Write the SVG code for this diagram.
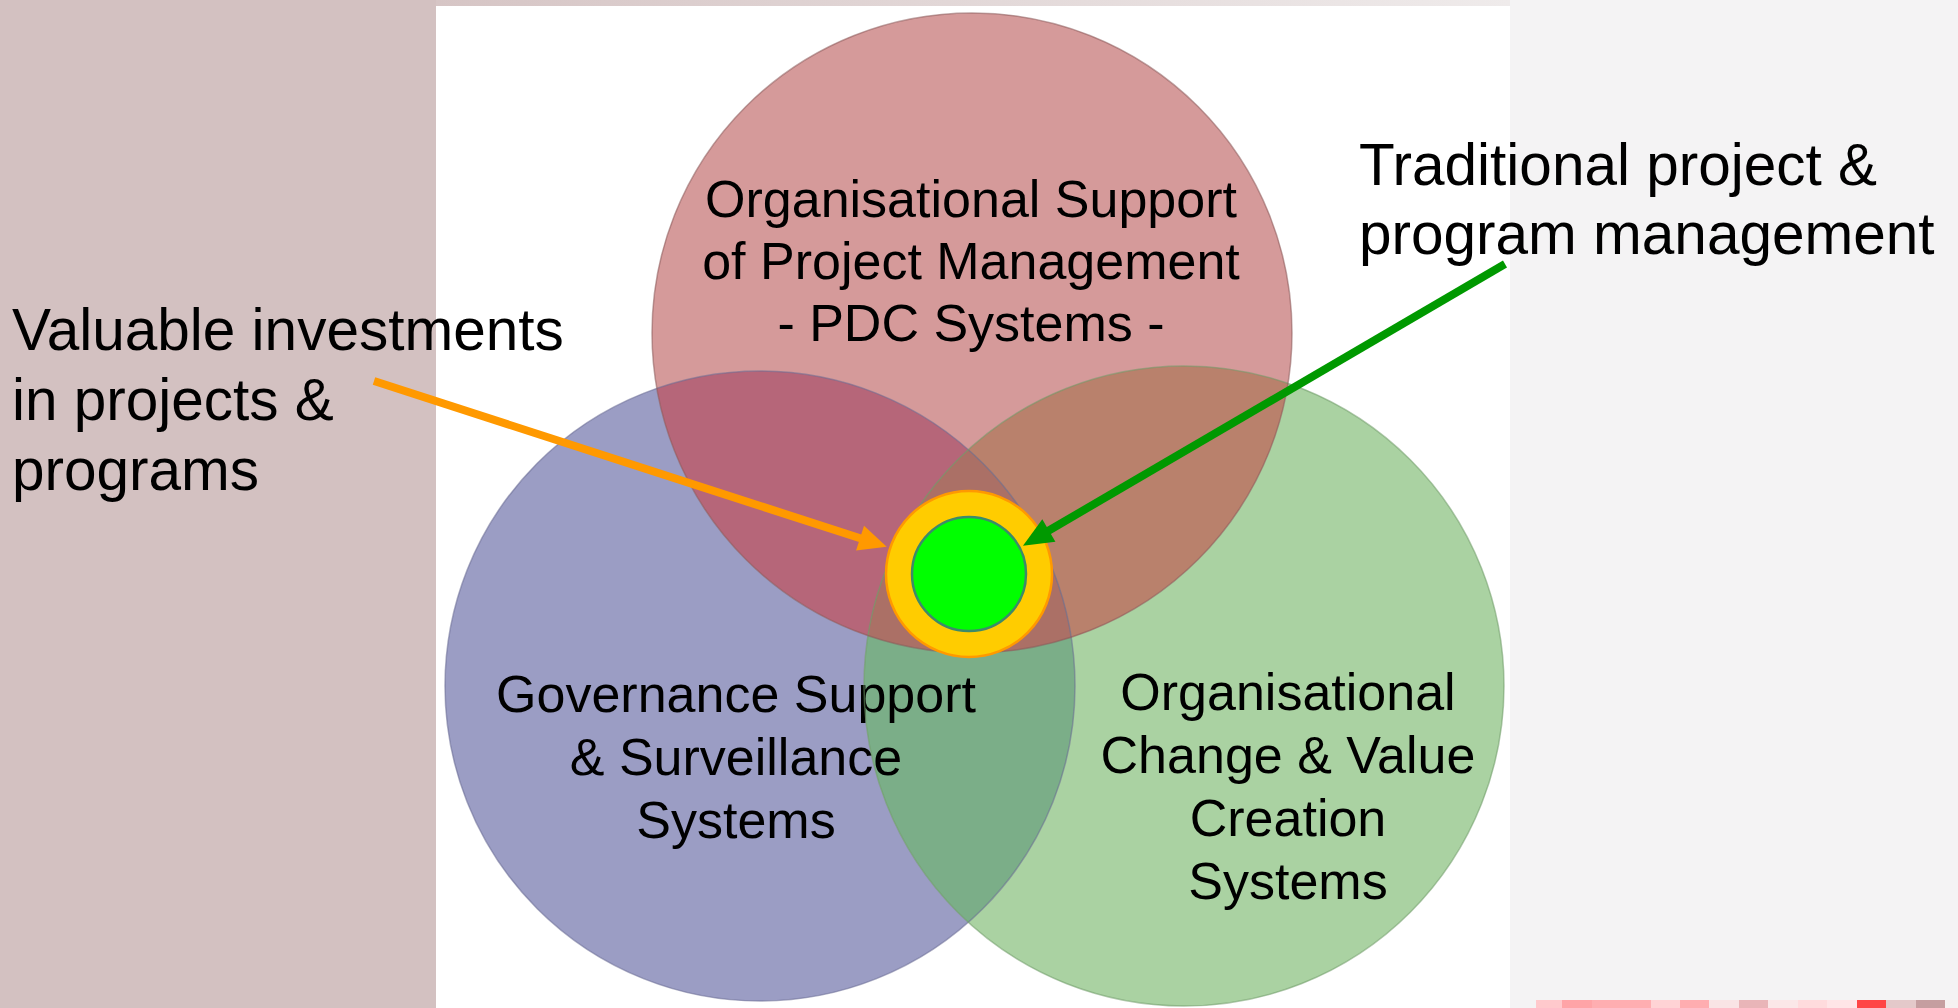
<svg xmlns="http://www.w3.org/2000/svg" width="1958" height="1008" viewBox="0 0 1958 1008">
  <style>
    text { font-family: "Liberation Sans", Arial, sans-serif; fill: #000; }
    .lbl { font-size: 52px; text-anchor: middle; }
    .call { font-size: 58.5px; }
    .edge { stroke-width: 1.5; stroke-opacity: 0.55; }
  </style>
  <defs>
    <linearGradient id="topStrip" x1="0" y1="0" x2="1" y2="0">
      <stop offset="0" stop-color="#d6c5c5"/>
      <stop offset="1" stop-color="#efebeb"/>
    </linearGradient>
    <clipPath id="clipRed"><circle cx="972" cy="333" r="320"/></clipPath>
    <clipPath id="clipBlue"><circle cx="760" cy="686" r="315"/></clipPath>
    <clipPath id="clipGreen"><circle cx="1184" cy="686" r="320"/></clipPath>
    <marker id="headOrange" markerUnits="userSpaceOnUse" markerWidth="30" markerHeight="26" refX="1" refY="13" orient="auto" overflow="visible">
      <path d="M0,0 L28,13 L0,26 z" fill="#ff9900"/>
    </marker>
    <marker id="headGreen" markerUnits="userSpaceOnUse" markerWidth="32" markerHeight="26" refX="1" refY="13" orient="auto" overflow="visible">
      <path d="M0,0 L30,13 L0,26 z" fill="#009900"/>
    </marker>
  </defs>

  <!-- background -->
  <rect x="0" y="0" width="436" height="1008" fill="#d3c1c1"/>
  <rect x="436" y="0" width="1074" height="6" fill="url(#topStrip)"/>
  <rect x="436" y="6" width="1074" height="1002" fill="#ffffff"/>
  <rect x="1510" y="0" width="448" height="1008" fill="#f4f3f4"/>
  <g id="footer-strip">
    <rect x="1536" y="1000" width="26" height="8" fill="#ffc9cc"/>
    <rect x="1562" y="1000" width="30" height="8" fill="#ffa4a7"/>
    <rect x="1592" y="1000" width="59" height="8" fill="#ffaeb1"/>
    <rect x="1651" y="1000" width="29" height="8" fill="#ffd3d5"/>
    <rect x="1680" y="1000" width="29" height="8" fill="#ffadb0"/>
    <rect x="1709" y="1000" width="30" height="8" fill="#f9e4e5"/>
    <rect x="1739" y="1000" width="29" height="8" fill="#e9b5b8"/>
    <rect x="1768" y="1000" width="30" height="8" fill="#fbe7e8"/>
    <rect x="1798" y="1000" width="29" height="8" fill="#ffdbdd"/>
    <rect x="1827" y="1000" width="30" height="8" fill="#ffe5e7"/>
    <rect x="1857" y="1000" width="29" height="8" fill="#ff4646"/>
    <rect x="1886" y="1000" width="30" height="8" fill="#e4c9ca"/>
    <rect x="1916" y="1000" width="29" height="8" fill="#c59ea0"/>
    <rect x="1945" y="1000" width="13" height="8" fill="#f6f1f1"/>
  </g>

  <!-- circle fills -->
  <g id="venn-fills">
    <circle cx="760" cy="686" r="315" fill="#9b9dc4"/>
    <circle cx="1184" cy="686" r="320" fill="#aad2a2"/>
    <circle cx="972" cy="333" r="320" fill="#d59a9a"/>
    <g clip-path="url(#clipGreen)">
      <circle cx="972" cy="333" r="320" fill="#b9816c"/>
    </g>
    <g clip-path="url(#clipBlue)">
      <circle cx="972" cy="333" r="320" fill="#b66679"/>
      <circle cx="1184" cy="686" r="320" fill="#7bae88"/>
      <g clip-path="url(#clipGreen)">
        <circle cx="972" cy="333" r="320" fill="#ab7066"/>
      </g>
    </g>
  </g>

  <g id="node-governance">
    <circle class="edge" cx="760" cy="686" r="315" fill="none" stroke="#6a6c94"/>
    <text class="lbl" x="736" y="712">Governance Support</text>
    <text class="lbl" x="736" y="775">&amp; Surveillance</text>
    <text class="lbl" x="736" y="838">Systems</text>
  </g>
  <g id="node-change">
    <circle class="edge" cx="1184" cy="686" r="320" fill="none" stroke="#6f9a68"/>
    <text class="lbl" x="1288" y="710">Organisational</text>
    <text class="lbl" x="1288" y="773">Change &amp; Value</text>
    <text class="lbl" x="1288" y="836">Creation</text>
    <text class="lbl" x="1288" y="899">Systems</text>
  </g>
  <g id="node-pdc">
    <circle class="edge" cx="972" cy="333" r="320" fill="none" stroke="#8a5a5a"/>
    <text class="lbl" x="971" y="217">Organisational Support</text>
    <text class="lbl" x="971" y="279">of Project Management</text>
    <text class="lbl" x="971" y="341">- PDC Systems -</text>
  </g>

  <g id="node-center">
    <circle cx="969" cy="574" r="83" fill="#ffcc00" stroke="#ff9900" stroke-width="2.5"/>
    <circle cx="969" cy="574" r="57" fill="#00ff00" stroke="#3d8a6a" stroke-width="2.5"/>
  </g>

  <g id="connectors">
    <line x1="374" y1="381" x2="861" y2="538.5" stroke="#ff9900" stroke-width="8" marker-end="url(#headOrange)"/>
    <line x1="1505" y1="264" x2="1048" y2="531" stroke="#009900" stroke-width="8" marker-end="url(#headGreen)"/>
  </g>

  <g id="label-valuable">
    <text class="call" x="12" y="350">Valuable investments</text>
    <text class="call" x="12" y="420">in projects &amp;</text>
    <text class="call" x="12" y="490">programs</text>
  </g>
  <g id="label-traditional">
    <text class="call" x="1359" y="185">Traditional project &amp;</text>
    <text class="call" x="1359" y="254">program management</text>
  </g>
</svg>
